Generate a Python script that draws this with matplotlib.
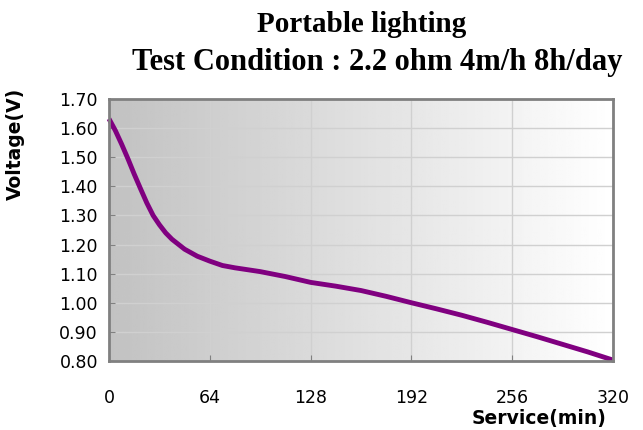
import numpy as np
import matplotlib
matplotlib.use("Agg")
import matplotlib.pyplot as plt

# service time (min) and voltage
minutes = [0, 4, 8, 12, 16, 20, 24, 28, 32, 36, 40, 48, 56, 64, 72, 80, 96, 112, 128,
           144, 160, 176, 192, 208, 224, 240, 256, 272, 288, 304, 320]
voltage = [1.632, 1.592, 1.545, 1.495, 1.442, 1.392, 1.343, 1.300, 1.268, 1.240, 1.218,
           1.184, 1.160, 1.143, 1.128, 1.120, 1.107, 1.090, 1.070, 1.057, 1.042, 1.022,
           1.000, 0.979, 0.957, 0.933, 0.908, 0.883, 0.857, 0.831, 0.803]

x_ticks = [0, 64, 128, 192, 256, 320]
y_ticks = [0.80, 0.90, 1.00, 1.10, 1.20, 1.30, 1.40, 1.50, 1.60, 1.70]

fig = plt.figure(figsize=(6.43, 4.30), dpi=100)
ax = fig.add_axes([0.1695, 0.1605, 0.784, 0.6093])

# gray-to-white gradient background
grad = np.linspace(0.76, 1.0, 256).reshape(1, -1)
ax.imshow(grad, cmap="gray", vmin=0, vmax=1, aspect="auto",
          extent=[0, 320, 0.80, 1.70], zorder=0)

ax.plot(minutes, voltage, color="#800080", lw=3.5, solid_capstyle="butt", zorder=3,
        clip_on=False)

ax.set_xlim(0, 320)
ax.set_ylim(0.80, 1.70)
ax.set_xticks(x_ticks)
ax.set_yticks(y_ticks)
ax.set_yticklabels(["%.2f" % v for v in y_ticks])
ax.grid(True, color="#d0d0d0", lw=1, zorder=1)
ax.set_axisbelow(False)
for s in ax.spines.values():
    s.set_color("#808080")
    s.set_linewidth(2)
    s.set_zorder(4)
ax.tick_params(axis="both", direction="in", length=4, color="#808080", labelsize=12.5)
ax.tick_params(axis="x", pad=20)
ax.tick_params(axis="y", pad=8)

ax.set_ylabel("Voltage(V)", fontsize=13.5, fontweight="bold")
ax.yaxis.set_label_coords(-0.167, 0.83)
fig.text(0.944, 0.014, "Service(min)", fontsize=13.5, fontweight="bold", ha="right", va="baseline")

fig.text(0.562, 0.926, "Portable lighting", fontsize=21, fontweight="bold",
         family="Liberation Serif", ha="center", va="baseline")
fig.text(0.586, 0.837, "Test Condition : 2.2 ohm 4m/h 8h/day", fontsize=22, fontweight="bold",
         family="Liberation Serif", ha="center", va="baseline")

fig.savefig("out.png", dpi=100)
